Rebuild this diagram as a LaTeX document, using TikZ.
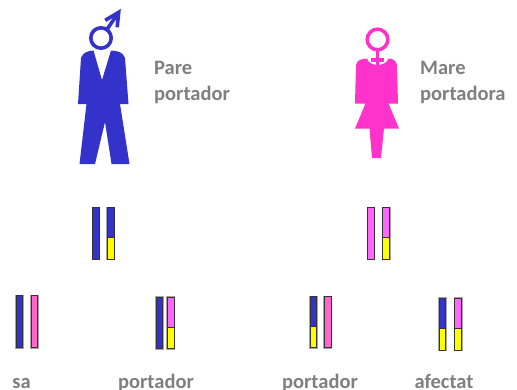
\documentclass[tikz,border=0pt]{standalone}
\usepackage{fontspec}
\setmainfont{Carlito}
\usepackage{tikz}
\definecolor{cblau}{HTML}{3333CC}
\definecolor{cfucsia}{HTML}{FF33CC}
\definecolor{crosa}{HTML}{FF66CC}
\definecolor{cmagenta}{HTML}{FF66FF}
\definecolor{cgroc}{HTML}{FFFF00}
\definecolor{cgris}{HTML}{7F7F7F}
\tikzset{
  etq/.style={font=\fontsize{20.5}{24}\selectfont\bfseries, text=cgris, inner sep=0pt},
  simbol/.style={line width=3.6pt, line join=miter},
  cromvora/.style={draw=black!35, line width=2.4pt},
  cromlinia/.style={draw=black!80, line width=0.7pt},
}
% cromosoma: x, dalt, tall, baix, color de dalt, color de baix
\newcommand{\cromo}[6]{%
  \draw[cromvora] (#1,#2) rectangle (#1+6.5,#4);
  \fill[#5] (#1,#2) rectangle (#1+6.5,#3);
  \fill[#6] (#1,#3) rectangle (#1+6.5,#4);
  \draw[cromlinia] (#1,#3) -- (#1+6.5,#3);
  \draw[cromlinia] (#1,#2) rectangle (#1+6.5,#4);
}

\begin{document}
\begin{tikzpicture}[x=1pt, y=-1pt]
  \useasboundingbox (0,0) rectangle (517,389);

  % pare
  \draw[simbol, cblau] (101,38) circle (10.2);
  \draw[simbol, cblau] (106.8,29.6) -- (118,13.4);
  \draw[simbol, cblau] (105.2,20.3) -- (118.7,12.3) -- (117.2,27.3);
  \fill[cblau] (93.5,50.5) -- (102,80) -- (111,50.5)
    .. controls (118,51) and (123,52) .. (125,58) -- (128.5,104)
    -- (120,104) -- (129.5,164) -- (111.5,164) -- (105,122)
    -- (95,164) -- (79.5,164) -- (86.5,104) -- (78,104) -- (81,58)
    .. controls (83,52) and (88,51) .. cycle;
  \node[etq, anchor=base west] (pare) at (154,74) {Pare};
  \node[etq, anchor=base west] (parep) at (154,100) {portador};

  % mare
  \draw[simbol, cfucsia] (377.5,39.5) circle (10.3);
  \draw[line width=3.2pt, cfucsia] (377.5,50) -- (377.5,67);
  \draw[line width=3.2pt, cfucsia] (371,60) -- (384,60);
  \fill[cfucsia] (367,58.5) .. controls (369,67) and (386,67) .. (388.5,58.5)
    .. controls (393,59) and (396,60) .. (397,65) -- (398,103.5)
    -- (388.5,103.5) -- (399,128.5) -- (384,128.5) -- (381,158)
    -- (372,158) -- (369.5,128.5) -- (355,128.5) -- (365.5,103.5)
    -- (355,103.5) -- (356,65) .. controls (357,60) and (361,59) .. cycle;
  \node[etq, anchor=base west] (mare) at (420,74) {Mare};
  \node[etq, anchor=base west] (marep) at (420,100) {portadora};

  % cromosomes dels pares
  \cromo{92.7}{207.7}{259}{259}{cblau}{cblau}
  \cromo{107.4}{207.7}{237.3}{259}{cblau}{cgroc}
  \cromo{367.7}{207.7}{259}{259}{cmagenta}{cmagenta}
  \cromo{382.8}{207.7}{237.3}{259}{cmagenta}{cgroc}

  % descendencia
  \cromo{16}{295.7}{347.7}{347.7}{cblau}{cblau}
  \cromo{31}{295.7}{347.7}{347.7}{crosa}{crosa}
  \cromo{156}{297.3}{348.3}{348.3}{cblau}{cblau}
  \cromo{167.6}{297.3}{327.3}{348.3}{cmagenta}{cgroc}
  \cromo{310}{296.7}{326.7}{347.3}{cblau}{cgroc}
  \cromo{324.4}{296.7}{347.3}{347.3}{crosa}{crosa}
  \cromo{439.3}{298.3}{328.3}{350}{cblau}{cgroc}
  \cromo{454.8}{298.3}{328.3}{350}{cmagenta}{cgroc}

  \node[etq, anchor=base] (sa) at (21.5,388.5) {sa};
  \node[etq, anchor=base] (port1) at (156,388.5) {portador};
  \node[etq, anchor=base] (port2) at (320,388.5) {portador};
  \node[etq, anchor=base] (afec) at (444,388.5) {afectat};
\end{tikzpicture}
\end{document}
